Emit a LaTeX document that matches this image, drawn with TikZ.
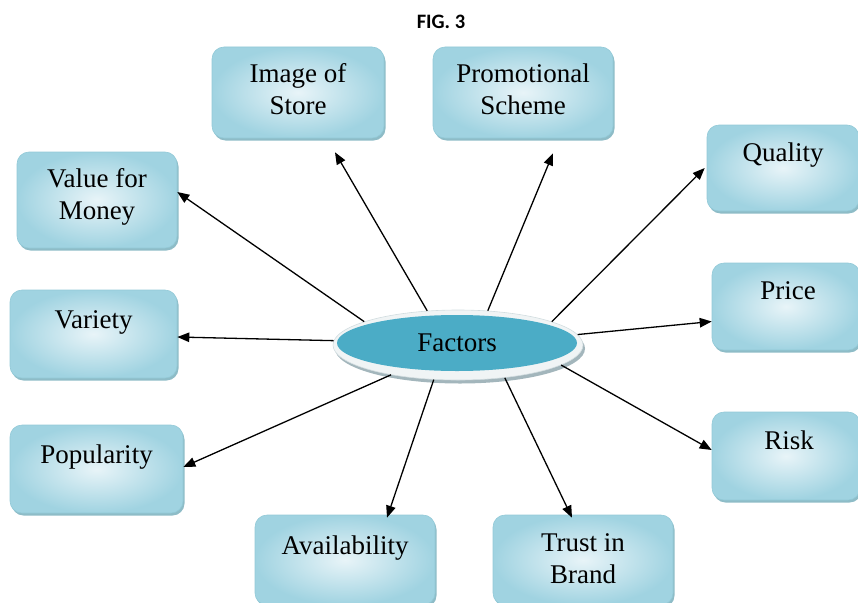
\documentclass[tikz,border=0pt]{standalone}
\usepackage{fontspec}
\setmainfont{Liberation Serif}
\newfontfamily\figfont{Carlito}
\usetikzlibrary{shadows,arrows.meta,shapes.geometric}

\definecolor{boxin}{HTML}{E8F4F8}
\definecolor{boxout}{HTML}{A0D3E1}
\definecolor{boxedge}{HTML}{92C9D7}
\definecolor{boxshadow}{HTML}{72ABB9}
\definecolor{teal5}{HTML}{4BACC6}
\definecolor{ringfill}{HTML}{F0F4F5}
\definecolor{ringedge}{HTML}{D2DDE0}
\definecolor{ringshadow}{HTML}{93A9B0}

\tikzset{
  box/.style={draw=boxedge, line width=0.6pt, rounded corners=12pt,
    inner color=boxin, outer color=boxout,
    drop shadow={shadow xshift=1.5pt, shadow yshift=-2.5pt, fill=boxshadow, opacity=0.8}},
  lbl/.style={font=\fontsize{27}{32}\selectfont, align=center, inner sep=0pt, anchor=north},
  arr/.style={-{Triangle[length=12pt,width=9.5pt]}, line width=1.3pt, black}
}

\begin{document}
\begin{tikzpicture}[x=1pt, y=-1pt]
\useasboundingbox (0,0) rectangle (858,602);

% title
\node[font=\figfont\bfseries\fontsize{20.5}{24}\selectfont] (title) at (441,22) {FIG. 3};

% outer boxes
\node[box, minimum width=172pt, minimum height=91pt] (is) at (298,92.5) {};
\node[box, minimum width=180pt, minimum height=91pt] (ps) at (523,92.5) {};
\node[box, minimum width=152pt, minimum height=86pt] (q)  at (783,168) {};
\node[box, minimum width=160pt, minimum height=96pt] (vm) at (97,200) {};
\node[box, minimum width=167pt, minimum height=88pt] (v)  at (93.5,334) {};
\node[box, minimum width=148pt, minimum height=87pt] (p)  at (786,306.5) {};
\node[box, minimum width=173pt, minimum height=88pt] (pop) at (96.5,469) {};
\node[box, minimum width=148pt, minimum height=88pt] (r)  at (786,456) {};
\node[box, minimum width=180pt, minimum height=90pt] (a)  at (345,560) {};
\node[box, minimum width=180pt, minimum height=90pt] (t)  at (583,560) {};

% box labels
\node[lbl] (is-l)  at ([yshift=-17pt]is.north)  {Image of\\Store};
\node[lbl] (ps-l)  at ([yshift=-17pt]ps.north)  {Promotional\\Scheme};
\node[lbl] (q-l)   at ([yshift=-18pt]q.north)   {Quality};
\node[lbl] (vm-l)  at ([yshift=-17pt]vm.north)  {Value for\\Money};
\node[lbl] (v-l)   at ([yshift=-21pt]v.north)   {Variety};
\node[lbl] (p-l)   at ([xshift=2pt,yshift=-19pt]p.north)   {Price};
\node[lbl] (pop-l) at ([yshift=-20pt]pop.north) {Popularity};
\node[lbl] (r-l)   at ([xshift=3pt,yshift=-19pt]r.north)   {Risk};
\node[lbl] (a-l)   at ([yshift=-21pt]a.north)   {Availability};
\node[lbl] (t-l)   at ([yshift=-19pt]t.north)   {Trust in\\Brand};

% central ellipse: light ring with the teal disc on top
\node[ellipse, draw=ringedge, line width=0.6pt, fill=ringfill,
      minimum width=250pt, minimum height=70pt, inner sep=0pt,
      drop shadow={shadow xshift=2pt, shadow yshift=-3.5pt, fill=ringshadow, opacity=0.85}]
      (ring) at (458,345) {};
\node[ellipse, fill=teal5, minimum width=240pt, minimum height=56pt, inner sep=0pt,
      font=\fontsize{27}{30}\selectfont] (fac) at (457,343) {Factors};

% connectors
\draw[arr] (ring.166.4) -- ([yshift=8pt]vm.east);
\draw[arr] (ring.132.9) -- ([xshift=37pt,yshift=-14pt]is.south);
\draw[arr] (ring.49.4)  -- ([xshift=30pt,yshift=-15pt]ps.south);
\draw[arr] (ring.14.5)  -- ([xshift=-2pt]q.west);
\draw[arr] (ring.178.6) -- ([yshift=-3pt]v.east);
\draw[arr] (ring.5.5)   -- ([yshift=-15pt]p.west);
\draw[arr] (ring.204.3) -- ([yshift=2pt]pop.east);
\draw[arr] (ring.-11.9) -- ([yshift=6pt]r.west);
\draw[arr] (ring.235.6) -- ([xshift=42pt,yshift=-3pt]a.north);
\draw[arr] (ring.-35.1) -- ([xshift=-11pt,yshift=-3pt]t.north);
\end{tikzpicture}
\end{document}
